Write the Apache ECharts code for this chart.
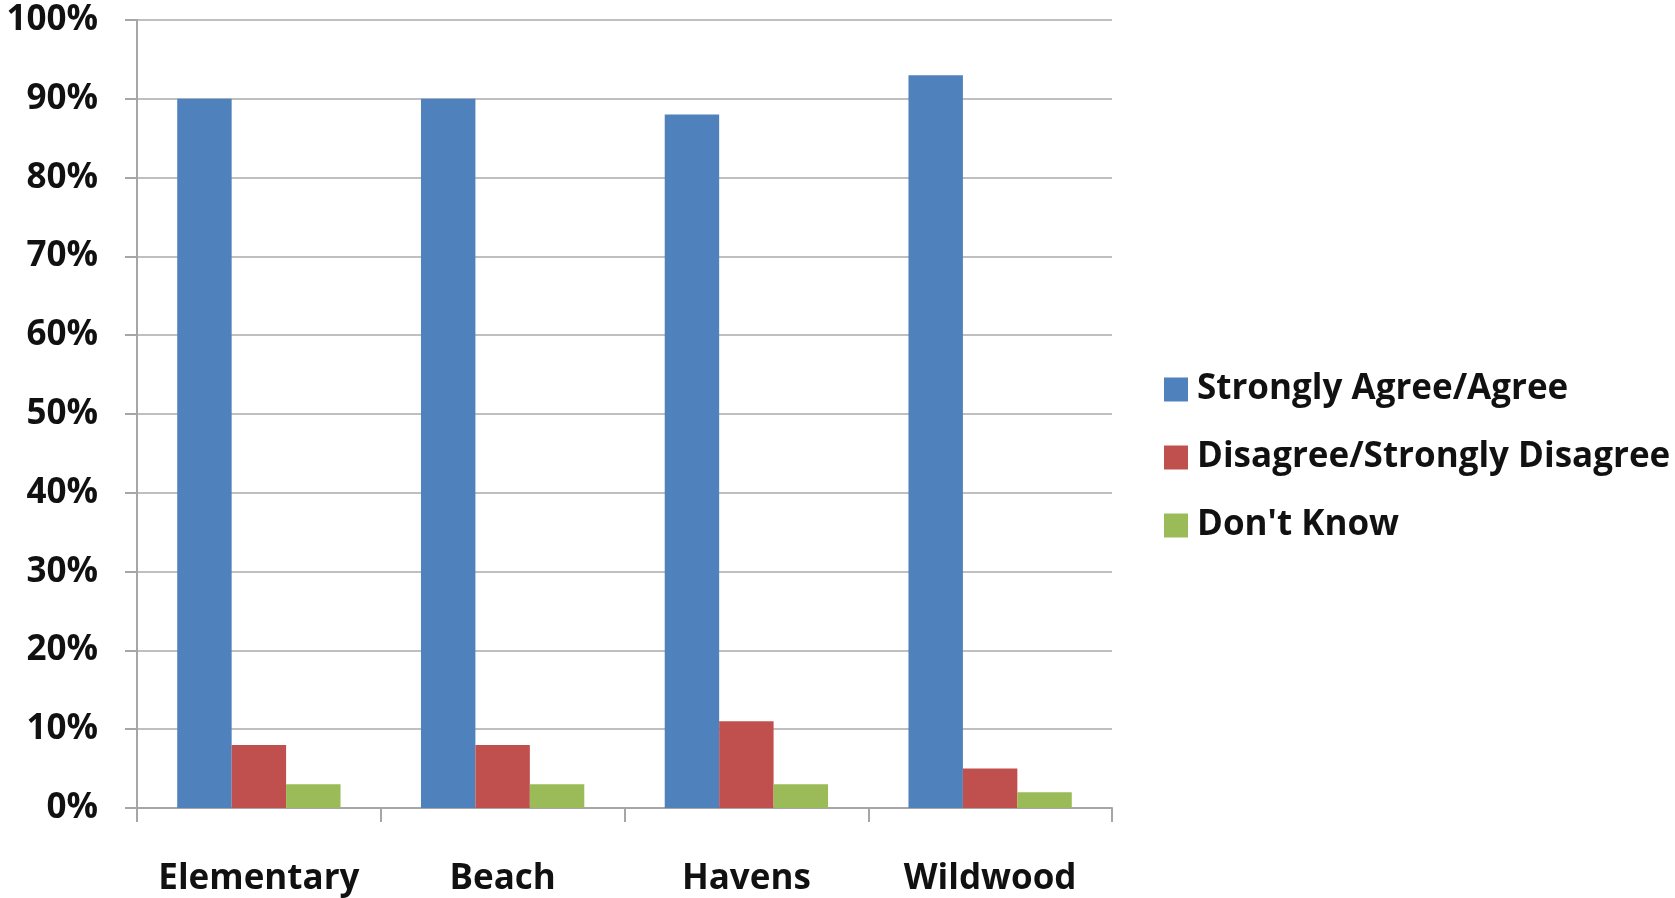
<!DOCTYPE html>
<html><head><meta charset="utf-8">
<script src="https://cdn.jsdelivr.net/npm/echarts@6/dist/echarts.min.js"></script>
<style>html,body{margin:0;padding:0;background:#fff}#c{width:1675px;height:898px}</style>
</head><body><div id="c"></div>
<script>
const categories = ['Elementary', 'Beach', 'Havens', 'Wildwood'];
const seriesNames = ['Strongly Agree/Agree', 'Disagree/Strongly Disagree', "Don't Know"];
const agree = [90, 90, 88, 93];
const disagree = [8, 8, 11, 5];
const dontKnow = [3, 3, 3, 2];
const colors = ['#4F81BD', '#C0504D', '#9BBB59'];
const FONT = '"Open Sans", Lato, sans-serif';
const chart = echarts.init(document.getElementById('c'));
const values = [agree, disagree, dontKnow];
chart.setOption({
  animation: false,
  color: colors,
  grid: { left: 137, right: 563, top: 20, bottom: 90, containLabel: false },
  legend: {
    orient: 'vertical', left: 1159, top: 367, itemWidth: 24, itemHeight: 24, itemGap: 33,
    icon: 'rect',
    textStyle: { fontFamily: FONT, fontWeight: 'bold', fontSize: 35, color: '#111', padding: [0,0,0,4] },
    data: seriesNames
  },
  xAxis: {
    type: 'category', data: categories,
    axisLine: { lineStyle: { color: '#a6a6a6', width: 2 } },
    axisTick: { show: true, interval: 0, length: 14, lineStyle: { color: '#a6a6a6', width: 2 } },
    axisLabel: { interval: 0, fontFamily: FONT, fontWeight: 'bold', fontSize: 35, color: '#111', margin: 54 }
  },
  yAxis: {
    type: 'value', min: 0, max: 100, interval: 10,
    axisLine: { show: true, lineStyle: { color: '#a6a6a6', width: 2 } },
    axisTick: { show: true, length: 12, lineStyle: { color: '#a6a6a6', width: 2 } },
    splitLine: { lineStyle: { color: '#bfbfbf', width: 2 } },
    axisLabel: { fontFamily: FONT, fontWeight: 'bold', fontSize: 35, color: '#111', margin: 39, formatter: '{value}%' }
  },
  series: seriesNames.map((n, i) => ({
    name: n, type: 'bar', data: values[i], barGap: '0%', barCategoryGap: '33%'
  }))
});
</script></body></html>
